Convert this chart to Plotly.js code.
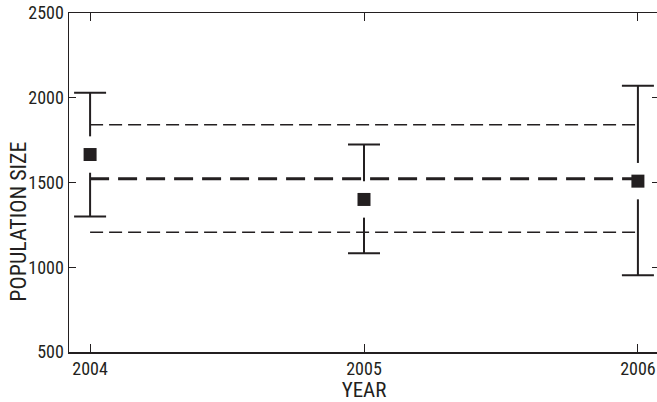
<!DOCTYPE html>
<html>
<head>
<meta charset="utf-8">
<script src="https://cdn.plot.ly/plotly-3.0.1.min.js"></script>
<style>html,body{margin:0;padding:0;background:#fff;overflow:hidden;}#chart{width:659px;height:402px;}</style>
</head>
<body>
<div id="chart"></div>
<script>
const years = [2004, 2005, 2006];
const popEstimate = [1665, 1400, 1508];
const upperCI = [2029, 1724, 2071];
const lowerCI = [1300, 1082, 953];
const meanLevel = 1522;
const upperLevel = 1840;
const lowerLevel = 1207;
const yTicks = [500, 1000, 1500, 2000, 2500];
const xTicks = [2004, 2005, 2006];

const ink = '#231f20';
const font = '"Roboto Condensed", "Arial Narrow", Roboto, sans-serif';
const ends = [years[0], years[years.length - 1]];

const traces = [
  {
    x: years, y: popEstimate, type: 'scatter', mode: 'markers',
    marker: {color: 'rgba(0,0,0,0)', size: 1},
    error_y: {
      type: 'data', symmetric: false,
      array: upperCI.map((u, i) => u - popEstimate[i]),
      arrayminus: lowerCI.map((l, i) => popEstimate[i] - l),
      color: ink, thickness: 2, width: 16
    },
    hoverinfo: 'skip', showlegend: false
  },
  {
    x: years, y: popEstimate, type: 'scatter', mode: 'markers',
    marker: {symbol: 'line-ns', size: 26, color: '#ffffff', line: {color: '#ffffff', width: 5}},
    hoverinfo: 'skip', showlegend: false
  },
  {
    x: ends, y: ends.map(() => upperLevel), type: 'scatter', mode: 'lines',
    line: {color: ink, width: 1.5, dash: '13px,6px'}, showlegend: false
  },
  {
    x: ends, y: ends.map(() => lowerLevel), type: 'scatter', mode: 'lines',
    line: {color: ink, width: 1.5, dash: '13px,6px'}, showlegend: false
  },
  {
    x: ends, y: ends.map(() => meanLevel), type: 'scatter', mode: 'lines',
    line: {color: ink, width: 3, dash: '19px,9px'}, showlegend: false
  },
  {
    x: years, y: popEstimate, type: 'scatter', mode: 'markers',
    marker: {symbol: 'square', size: 13, color: ink}, showlegend: false
  }
];

const layout = {
  width: 659, height: 402,
  margin: {l: 69, r: 0, t: 13, b: 50},
  paper_bgcolor: '#fff', plot_bgcolor: '#fff',
  font: {family: font, color: ink, size: 18},
  showlegend: false,
  xaxis: {
    range: [2003.923, 2006.077],
    tickvals: xTicks, ticktext: xTicks.map(String),
    ticks: 'inside', ticklen: 8, tickwidth: 1, tickcolor: ink,
    showline: true, linecolor: ink, linewidth: 1.5, mirror: 'ticks',
    showgrid: false, zeroline: false, ticklabeloverflow: 'allow',
    tickfont: {family: font, size: 18, color: ink},
    title: {text: 'YEAR', font: {family: font, size: 21, color: ink}, standoff: 2}
  },
  yaxis: {
    range: [500, 2500],
    tickvals: yTicks, ticktext: yTicks.map(String),
    ticks: 'inside', ticklen: 7, tickwidth: 1, tickcolor: ink,
    showline: true, linecolor: ink, linewidth: 1.5, mirror: 'ticks',
    showgrid: false, zeroline: false, ticklabeloverflow: 'allow',
    tickfont: {family: font, size: 18, color: ink}
  },
  annotations: [{
    text: 'POPULATION SIZE', textangle: -90,
    xref: 'paper', yref: 'paper', x: -0.0856, y: 0.386,
    xanchor: 'center', yanchor: 'middle', showarrow: false,
    font: {family: font, size: 22, color: ink}
  }]
};

Plotly.newPlot('chart', traces, layout, {displayModeBar: false, staticPlot: true});
</script>
</body>
</html>
